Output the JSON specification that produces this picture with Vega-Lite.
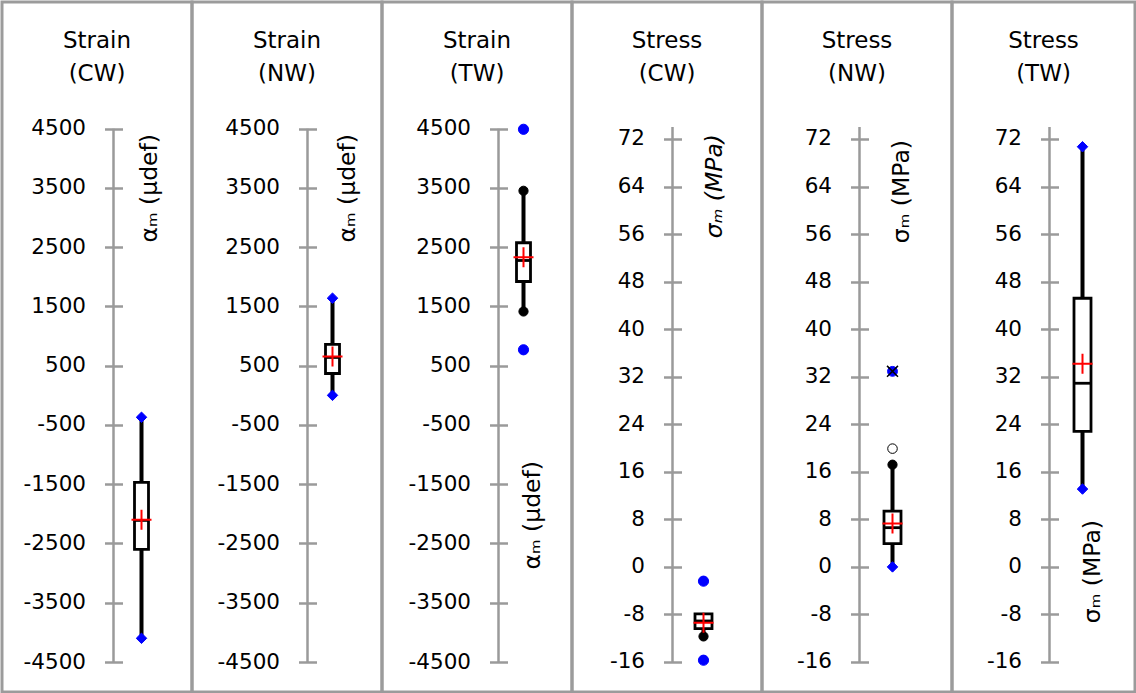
{
  "$schema": "https://vega.github.io/schema/vega-lite/v6.json",
  "padding": 0,
  "background": "white",
  "spacing": 0,
  "bounds": "flush",
  "datasets": {
    "stats": [
      {"panel": "Strain CW", "lo": -4100, "q1": -2600, "median": -2110, "q3": -1470, "hi": -370, "mean": -2100},
      {"panel": "Strain NW", "lo": 0, "q1": 369, "median": 640, "q3": 860, "hi": 1640, "mean": 655},
      {"panel": "Strain TW", "lo": 1415, "q1": 1921, "median": 2276, "q3": 2575, "hi": 3452, "mean": 2331},
      {"panel": "Stress CW", "lo": -11.7, "q1": -10.4, "median": -9.1, "q3": -7.9, "hi": -7.9, "mean": -9.4},
      {"panel": "Stress NW", "lo": 0, "q1": 3.9, "median": 6.6, "q3": 9.4, "hi": 17.2, "mean": 7.3},
      {"panel": "Stress TW", "lo": 13.1, "q1": 22.8, "median": 30.9, "q3": 45.2, "hi": 70.7, "mean": 34.2}
    ],
    "points": [
      {"panel": "Strain CW", "value": -370, "kind": "diamond"},
      {"panel": "Strain CW", "value": -4100, "kind": "diamond"},
      {"panel": "Strain NW", "value": 1640, "kind": "diamond"},
      {"panel": "Strain NW", "value": 0, "kind": "diamond"},
      {"panel": "Strain TW", "value": 4490, "kind": "circle"},
      {"panel": "Strain TW", "value": 769, "kind": "circle"},
      {"panel": "Strain TW", "value": 3452, "kind": "cap"},
      {"panel": "Strain TW", "value": 1415, "kind": "cap"},
      {"panel": "Stress CW", "value": -2.4, "kind": "circle"},
      {"panel": "Stress CW", "value": -15.7, "kind": "circle"},
      {"panel": "Stress CW", "value": -11.7, "kind": "cap"},
      {"panel": "Stress NW", "value": 32.9, "kind": "star"},
      {"panel": "Stress NW", "value": 19.9, "kind": "open"},
      {"panel": "Stress NW", "value": 17.2, "kind": "cap"},
      {"panel": "Stress NW", "value": 0, "kind": "diamond"},
      {"panel": "Stress TW", "value": 70.7, "kind": "diamond"},
      {"panel": "Stress TW", "value": 13.1, "kind": "diamond"}
    ]
  },
  "resolve": {"scale": {"x": "independent", "y": "independent"}},
  "hconcat": [
    {
      "width": 190, "height": 690,
      "title": {"text": ["Strain", "(CW)"]},
      "layer": [
        {"data": {"name": "stats"}, "transform": [{"filter": "datum.panel === 'Strain CW'"}],
         "mark": {"type": "rule", "color": "#9a9a9a", "strokeWidth": 2.5},
         "encoding": {
           "x": {"datum": "axis", "type": "nominal", "scale": {"type": "point", "domain": ["axis", "box"], "range": [111.5, 139.5], "padding": 0}, "axis": null},
           "y": {"datum": -4500, "type": "quantitative", "scale": {"domain": [-5006, 6638], "nice": false, "zero": false},
                 "axis": {"values": [-4500, -3500, -2500, -1500, -500, 500, 1500, 2500, 3500, 4500], "labelExpr": "'' + datum.value", "offset": -120.5, "title": "αₘ (µdef)", "titleX": 27, "titleY": 131.5}},
           "y2": {"datum": 4500}
         }},
        {"data": {"name": "stats"}, "transform": [{"filter": "datum.panel === 'Strain CW'"}],
         "mark": {"type": "rule", "color": "black", "strokeWidth": 4},
         "encoding": {"x": {"datum": "box", "type": "nominal"}, "y": {"field": "lo", "type": "quantitative"}, "y2": {"field": "hi"}}},
        {"data": {"name": "stats"}, "transform": [{"filter": "datum.panel === 'Strain CW'"}],
         "mark": {"type": "bar", "width": 14, "fill": "white", "stroke": "black", "strokeWidth": 2.8, "opacity": 1},
         "encoding": {"x": {"datum": "box", "type": "nominal"}, "y": {"field": "q1", "type": "quantitative"}, "y2": {"field": "q3"}}},
        {"data": {"name": "stats"}, "transform": [{"filter": "datum.panel === 'Strain CW'"}],
         "mark": {"type": "tick", "size": 14, "thickness": 2.8, "color": "black", "opacity": 1},
         "encoding": {"x": {"datum": "box", "type": "nominal"}, "y": {"field": "median", "type": "quantitative"}}},
        {"data": {"name": "points"}, "transform": [{"filter": "datum.panel === 'Strain CW'"}],
         "mark": {"type": "point", "filled": true, "strokeWidth": 1, "opacity": 1},
         "encoding": {"x": {"datum": "box", "type": "nominal"}, "y": {"field": "value", "type": "quantitative"},
           "shape": {"field": "kind", "type": "nominal", "legend": null, "scale": {"domain": ["diamond", "circle", "star", "open", "cap"], "range": ["diamond", "circle", "circle", "circle", "circle"]}},
           "size": {"field": "kind", "type": "nominal", "legend": null, "scale": {"domain": ["diamond", "circle", "star", "open", "cap"], "range": [110, 85, 100, 45, 16]}},
           "fill": {"field": "kind", "type": "nominal", "legend": null, "scale": {"domain": ["diamond", "circle", "star", "open", "cap"], "range": ["#0000ff", "#0000ff", "#0000ff", "#ffffff", "#000000"]}},
           "stroke": {"field": "kind", "type": "nominal", "legend": null, "scale": {"domain": ["diamond", "circle", "star", "open", "cap"], "range": ["#0000ff", "#0000ff", "#0000ff", "#000000", "#000000"]}}}},
        {"data": {"name": "stats"}, "transform": [{"filter": "datum.panel === 'Strain CW'"}],
         "mark": {"type": "point", "shape": "M-1,0L1,0M0,-1L0,1", "size": 400, "filled": false, "stroke": "#ff0000", "strokeWidth": 2, "opacity": 1},
         "encoding": {"x": {"datum": "box", "type": "nominal"}, "y": {"field": "mean", "type": "quantitative"}}}
      ]
    },
    {
      "width": 190, "height": 690,
      "title": {"text": ["Strain", "(NW)"]},
      "layer": [
        {"data": {"name": "stats"}, "transform": [{"filter": "datum.panel === 'Strain NW'"}],
         "mark": {"type": "rule", "color": "#9a9a9a", "strokeWidth": 2.5},
         "encoding": {
           "x": {"datum": "axis", "type": "nominal", "scale": {"type": "point", "domain": ["axis", "box"], "range": [115.5, 140.5], "padding": 0}, "axis": null},
           "y": {"datum": -4500, "type": "quantitative", "scale": {"domain": [-5006, 6638], "nice": false, "zero": false},
                 "axis": {"values": [-4500, -3500, -2500, -1500, -500, 500, 1500, 2500, 3500, 4500], "labelExpr": "'' + datum.value", "offset": -124.5, "title": "αₘ (µdef)", "titleX": 31, "titleY": 131.5}},
           "y2": {"datum": 4500}
         }},
        {"data": {"name": "stats"}, "transform": [{"filter": "datum.panel === 'Strain NW'"}],
         "mark": {"type": "rule", "color": "black", "strokeWidth": 4},
         "encoding": {"x": {"datum": "box", "type": "nominal"}, "y": {"field": "lo", "type": "quantitative"}, "y2": {"field": "hi"}}},
        {"data": {"name": "stats"}, "transform": [{"filter": "datum.panel === 'Strain NW'"}],
         "mark": {"type": "bar", "width": 14, "fill": "white", "stroke": "black", "strokeWidth": 2.8, "opacity": 1},
         "encoding": {"x": {"datum": "box", "type": "nominal"}, "y": {"field": "q1", "type": "quantitative"}, "y2": {"field": "q3"}}},
        {"data": {"name": "stats"}, "transform": [{"filter": "datum.panel === 'Strain NW'"}],
         "mark": {"type": "tick", "size": 14, "thickness": 2.8, "color": "black", "opacity": 1},
         "encoding": {"x": {"datum": "box", "type": "nominal"}, "y": {"field": "median", "type": "quantitative"}}},
        {"data": {"name": "points"}, "transform": [{"filter": "datum.panel === 'Strain NW'"}],
         "mark": {"type": "point", "filled": true, "strokeWidth": 1, "opacity": 1},
         "encoding": {"x": {"datum": "box", "type": "nominal"}, "y": {"field": "value", "type": "quantitative"},
           "shape": {"field": "kind", "type": "nominal", "legend": null, "scale": {"domain": ["diamond", "circle", "star", "open", "cap"], "range": ["diamond", "circle", "circle", "circle", "circle"]}},
           "size": {"field": "kind", "type": "nominal", "legend": null, "scale": {"domain": ["diamond", "circle", "star", "open", "cap"], "range": [110, 85, 100, 45, 16]}},
           "fill": {"field": "kind", "type": "nominal", "legend": null, "scale": {"domain": ["diamond", "circle", "star", "open", "cap"], "range": ["#0000ff", "#0000ff", "#0000ff", "#ffffff", "#000000"]}},
           "stroke": {"field": "kind", "type": "nominal", "legend": null, "scale": {"domain": ["diamond", "circle", "star", "open", "cap"], "range": ["#0000ff", "#0000ff", "#0000ff", "#000000", "#000000"]}}}},
        {"data": {"name": "stats"}, "transform": [{"filter": "datum.panel === 'Strain NW'"}],
         "mark": {"type": "point", "shape": "M-1,0L1,0M0,-1L0,1", "size": 400, "filled": false, "stroke": "#ff0000", "strokeWidth": 2, "opacity": 1},
         "encoding": {"x": {"datum": "box", "type": "nominal"}, "y": {"field": "mean", "type": "quantitative"}}}
      ]
    },
    {
      "width": 190, "height": 690,
      "title": {"text": ["Strain", "(TW)"]},
      "layer": [
        {"data": {"name": "stats"}, "transform": [{"filter": "datum.panel === 'Strain TW'"}],
         "mark": {"type": "rule", "color": "#9a9a9a", "strokeWidth": 2.5},
         "encoding": {
           "x": {"datum": "axis", "type": "nominal", "scale": {"type": "point", "domain": ["axis", "box"], "range": [116.5, 141.5], "padding": 0}, "axis": null},
           "y": {"datum": -4500, "type": "quantitative", "scale": {"domain": [-5006, 6638], "nice": false, "zero": false},
                 "axis": {"values": [-4500, -3500, -2500, -1500, -500, 500, 1500, 2500, 3500, 4500], "labelExpr": "'' + datum.value", "offset": -125.5, "title": "αₘ (µdef)", "titleX": 25, "titleY": 458.5}},
           "y2": {"datum": 4500}
         }},
        {"data": {"name": "stats"}, "transform": [{"filter": "datum.panel === 'Strain TW'"}],
         "mark": {"type": "rule", "color": "black", "strokeWidth": 4},
         "encoding": {"x": {"datum": "box", "type": "nominal"}, "y": {"field": "lo", "type": "quantitative"}, "y2": {"field": "hi"}}},
        {"data": {"name": "stats"}, "transform": [{"filter": "datum.panel === 'Strain TW'"}],
         "mark": {"type": "bar", "width": 14, "fill": "white", "stroke": "black", "strokeWidth": 2.8, "opacity": 1},
         "encoding": {"x": {"datum": "box", "type": "nominal"}, "y": {"field": "q1", "type": "quantitative"}, "y2": {"field": "q3"}}},
        {"data": {"name": "stats"}, "transform": [{"filter": "datum.panel === 'Strain TW'"}],
         "mark": {"type": "tick", "size": 14, "thickness": 2.8, "color": "black", "opacity": 1},
         "encoding": {"x": {"datum": "box", "type": "nominal"}, "y": {"field": "median", "type": "quantitative"}}},
        {"data": {"name": "points"}, "transform": [{"filter": "datum.panel === 'Strain TW'"}],
         "mark": {"type": "point", "filled": true, "strokeWidth": 1, "opacity": 1},
         "encoding": {"x": {"datum": "box", "type": "nominal"}, "y": {"field": "value", "type": "quantitative"},
           "shape": {"field": "kind", "type": "nominal", "legend": null, "scale": {"domain": ["diamond", "circle", "star", "open", "cap"], "range": ["diamond", "circle", "circle", "circle", "circle"]}},
           "size": {"field": "kind", "type": "nominal", "legend": null, "scale": {"domain": ["diamond", "circle", "star", "open", "cap"], "range": [110, 85, 100, 45, 16]}},
           "fill": {"field": "kind", "type": "nominal", "legend": null, "scale": {"domain": ["diamond", "circle", "star", "open", "cap"], "range": ["#0000ff", "#0000ff", "#0000ff", "#ffffff", "#000000"]}},
           "stroke": {"field": "kind", "type": "nominal", "legend": null, "scale": {"domain": ["diamond", "circle", "star", "open", "cap"], "range": ["#0000ff", "#0000ff", "#0000ff", "#000000", "#000000"]}}}},
        {"data": {"name": "stats"}, "transform": [{"filter": "datum.panel === 'Strain TW'"}],
         "mark": {"type": "point", "shape": "M-1,0L1,0M0,-1L0,1", "size": 400, "filled": false, "stroke": "#ff0000", "strokeWidth": 2, "opacity": 1},
         "encoding": {"x": {"datum": "box", "type": "nominal"}, "y": {"field": "mean", "type": "quantitative"}}}
      ]
    },
    {
      "width": 190, "height": 690,
      "title": {"text": ["Stress", "(CW)"]},
      "layer": [
        {"data": {"name": "stats"}, "transform": [{"filter": "datum.panel === 'Stress CW'"}],
         "mark": {"type": "rule", "color": "#9a9a9a", "strokeWidth": 2.5},
         "encoding": {
           "x": {"datum": "axis", "type": "nominal", "scale": {"type": "point", "domain": ["axis", "box"], "range": [100.5, 131.5], "padding": 0}, "axis": null},
           "y": {"datum": -16, "type": "quantitative", "scale": {"domain": [-21.05, 95.05], "nice": false, "zero": false},
                 "axis": {"values": [-16, -8, 0, 8, 16, 24, 32, 40, 48, 56, 64, 72], "labelExpr": "'' + datum.value", "offset": -109.5, "title": "σₘ (MPa)", "titleFontStyle": "italic", "titleX": 33, "titleY": 131.5}},
           "y2": {"datum": 74}
         }},
        {"data": {"name": "stats"}, "transform": [{"filter": "datum.panel === 'Stress CW'"}],
         "mark": {"type": "rule", "color": "black", "strokeWidth": 4},
         "encoding": {"x": {"datum": "box", "type": "nominal"}, "y": {"field": "lo", "type": "quantitative"}, "y2": {"field": "hi"}}},
        {"data": {"name": "stats"}, "transform": [{"filter": "datum.panel === 'Stress CW'"}],
         "mark": {"type": "bar", "width": 17, "fill": "white", "stroke": "black", "strokeWidth": 2.8, "opacity": 1},
         "encoding": {"x": {"datum": "box", "type": "nominal"}, "y": {"field": "q1", "type": "quantitative"}, "y2": {"field": "q3"}}},
        {"data": {"name": "stats"}, "transform": [{"filter": "datum.panel === 'Stress CW'"}],
         "mark": {"type": "tick", "size": 17, "thickness": 2.8, "color": "black", "opacity": 1},
         "encoding": {"x": {"datum": "box", "type": "nominal"}, "y": {"field": "median", "type": "quantitative"}}},
        {"data": {"name": "points"}, "transform": [{"filter": "datum.panel === 'Stress CW'"}],
         "mark": {"type": "point", "filled": true, "strokeWidth": 1, "opacity": 1},
         "encoding": {"x": {"datum": "box", "type": "nominal"}, "y": {"field": "value", "type": "quantitative"},
           "shape": {"field": "kind", "type": "nominal", "legend": null, "scale": {"domain": ["diamond", "circle", "star", "open", "cap"], "range": ["diamond", "circle", "circle", "circle", "circle"]}},
           "size": {"field": "kind", "type": "nominal", "legend": null, "scale": {"domain": ["diamond", "circle", "star", "open", "cap"], "range": [110, 85, 100, 45, 16]}},
           "fill": {"field": "kind", "type": "nominal", "legend": null, "scale": {"domain": ["diamond", "circle", "star", "open", "cap"], "range": ["#0000ff", "#0000ff", "#0000ff", "#ffffff", "#000000"]}},
           "stroke": {"field": "kind", "type": "nominal", "legend": null, "scale": {"domain": ["diamond", "circle", "star", "open", "cap"], "range": ["#0000ff", "#0000ff", "#0000ff", "#000000", "#000000"]}}}},
        {"data": {"name": "stats"}, "transform": [{"filter": "datum.panel === 'Stress CW'"}],
         "mark": {"type": "point", "shape": "M-1,0L1,0M0,-1L0,1", "size": 400, "filled": false, "stroke": "#ff0000", "strokeWidth": 2, "opacity": 1},
         "encoding": {"x": {"datum": "box", "type": "nominal"}, "y": {"field": "mean", "type": "quantitative"}}}
      ]
    },
    {
      "width": 190, "height": 690,
      "title": {"text": ["Stress", "(NW)"]},
      "layer": [
        {"data": {"name": "stats"}, "transform": [{"filter": "datum.panel === 'Stress NW'"}],
         "mark": {"type": "rule", "color": "#9a9a9a", "strokeWidth": 2.5},
         "encoding": {
           "x": {"datum": "axis", "type": "nominal", "scale": {"type": "point", "domain": ["axis", "box"], "range": [97.5, 130.5], "padding": 0}, "axis": null},
           "y": {"datum": -16, "type": "quantitative", "scale": {"domain": [-21.05, 95.05], "nice": false, "zero": false},
                 "axis": {"values": [-16, -8, 0, 8, 16, 24, 32, 40, 48, 56, 64, 72], "labelExpr": "'' + datum.value", "offset": -106.5, "title": "σₘ (MPa)", "titleX": 33, "titleY": 137.5}},
           "y2": {"datum": 74}
         }},
        {"data": {"name": "stats"}, "transform": [{"filter": "datum.panel === 'Stress NW'"}],
         "mark": {"type": "rule", "color": "black", "strokeWidth": 4},
         "encoding": {"x": {"datum": "box", "type": "nominal"}, "y": {"field": "lo", "type": "quantitative"}, "y2": {"field": "hi"}}},
        {"data": {"name": "stats"}, "transform": [{"filter": "datum.panel === 'Stress NW'"}],
         "mark": {"type": "bar", "width": 17, "fill": "white", "stroke": "black", "strokeWidth": 2.8, "opacity": 1},
         "encoding": {"x": {"datum": "box", "type": "nominal"}, "y": {"field": "q1", "type": "quantitative"}, "y2": {"field": "q3"}}},
        {"data": {"name": "stats"}, "transform": [{"filter": "datum.panel === 'Stress NW'"}],
         "mark": {"type": "tick", "size": 17, "thickness": 2.8, "color": "black", "opacity": 1},
         "encoding": {"x": {"datum": "box", "type": "nominal"}, "y": {"field": "median", "type": "quantitative"}}},
        {"data": {"name": "points"}, "transform": [{"filter": "datum.panel === 'Stress NW'"}],
         "mark": {"type": "point", "filled": true, "strokeWidth": 1, "opacity": 1},
         "encoding": {"x": {"datum": "box", "type": "nominal"}, "y": {"field": "value", "type": "quantitative"},
           "shape": {"field": "kind", "type": "nominal", "legend": null, "scale": {"domain": ["diamond", "circle", "star", "open", "cap"], "range": ["diamond", "circle", "circle", "circle", "circle"]}},
           "size": {"field": "kind", "type": "nominal", "legend": null, "scale": {"domain": ["diamond", "circle", "star", "open", "cap"], "range": [110, 85, 100, 45, 16]}},
           "fill": {"field": "kind", "type": "nominal", "legend": null, "scale": {"domain": ["diamond", "circle", "star", "open", "cap"], "range": ["#0000ff", "#0000ff", "#0000ff", "#ffffff", "#000000"]}},
           "stroke": {"field": "kind", "type": "nominal", "legend": null, "scale": {"domain": ["diamond", "circle", "star", "open", "cap"], "range": ["#0000ff", "#0000ff", "#0000ff", "#000000", "#000000"]}}}},
        {"data": {"name": "points"}, "transform": [{"filter": "datum.panel === 'Stress NW' && datum.kind === 'star'"}],
         "mark": {"type": "point", "shape": "M-1,-1L1,1M1,-1L-1,1", "size": 120, "filled": false, "stroke": "black", "strokeWidth": 1.5, "opacity": 1},
         "encoding": {"x": {"datum": "box", "type": "nominal"}, "y": {"field": "value", "type": "quantitative"}}},
        {"data": {"name": "stats"}, "transform": [{"filter": "datum.panel === 'Stress NW'"}],
         "mark": {"type": "point", "shape": "M-1,0L1,0M0,-1L0,1", "size": 400, "filled": false, "stroke": "#ff0000", "strokeWidth": 2, "opacity": 1},
         "encoding": {"x": {"datum": "box", "type": "nominal"}, "y": {"field": "mean", "type": "quantitative"}}}
      ]
    },
    {
      "width": 183, "height": 690,
      "title": {"text": ["Stress", "(TW)"]},
      "layer": [
        {"data": {"name": "stats"}, "transform": [{"filter": "datum.panel === 'Stress TW'"}],
         "mark": {"type": "rule", "color": "#9a9a9a", "strokeWidth": 2.5},
         "encoding": {
           "x": {"datum": "axis", "type": "nominal", "scale": {"type": "point", "domain": ["axis", "box"], "range": [97.5, 130.5], "padding": 0}, "axis": null},
           "y": {"datum": -16, "type": "quantitative", "scale": {"domain": [-21.05, 95.05], "nice": false, "zero": false},
                 "axis": {"values": [-16, -8, 0, 8, 16, 24, 32, 40, 48, 56, 64, 72], "labelExpr": "'' + datum.value", "offset": -106.5, "title": "σₘ (MPa)", "titleX": 34, "titleY": 517.5}},
           "y2": {"datum": 74}
         }},
        {"data": {"name": "stats"}, "transform": [{"filter": "datum.panel === 'Stress TW'"}],
         "mark": {"type": "rule", "color": "black", "strokeWidth": 4},
         "encoding": {"x": {"datum": "box", "type": "nominal"}, "y": {"field": "lo", "type": "quantitative"}, "y2": {"field": "hi"}}},
        {"data": {"name": "stats"}, "transform": [{"filter": "datum.panel === 'Stress TW'"}],
         "mark": {"type": "bar", "width": 17, "fill": "white", "stroke": "black", "strokeWidth": 2.8, "opacity": 1},
         "encoding": {"x": {"datum": "box", "type": "nominal"}, "y": {"field": "q1", "type": "quantitative"}, "y2": {"field": "q3"}}},
        {"data": {"name": "stats"}, "transform": [{"filter": "datum.panel === 'Stress TW'"}],
         "mark": {"type": "tick", "size": 17, "thickness": 2.8, "color": "black", "opacity": 1},
         "encoding": {"x": {"datum": "box", "type": "nominal"}, "y": {"field": "median", "type": "quantitative"}}},
        {"data": {"name": "points"}, "transform": [{"filter": "datum.panel === 'Stress TW'"}],
         "mark": {"type": "point", "filled": true, "strokeWidth": 1, "opacity": 1},
         "encoding": {"x": {"datum": "box", "type": "nominal"}, "y": {"field": "value", "type": "quantitative"},
           "shape": {"field": "kind", "type": "nominal", "legend": null, "scale": {"domain": ["diamond", "circle", "star", "open", "cap"], "range": ["diamond", "circle", "circle", "circle", "circle"]}},
           "size": {"field": "kind", "type": "nominal", "legend": null, "scale": {"domain": ["diamond", "circle", "star", "open", "cap"], "range": [110, 85, 100, 45, 16]}},
           "fill": {"field": "kind", "type": "nominal", "legend": null, "scale": {"domain": ["diamond", "circle", "star", "open", "cap"], "range": ["#0000ff", "#0000ff", "#0000ff", "#ffffff", "#000000"]}},
           "stroke": {"field": "kind", "type": "nominal", "legend": null, "scale": {"domain": ["diamond", "circle", "star", "open", "cap"], "range": ["#0000ff", "#0000ff", "#0000ff", "#000000", "#000000"]}}}},
        {"data": {"name": "stats"}, "transform": [{"filter": "datum.panel === 'Stress TW'"}],
         "mark": {"type": "point", "shape": "M-1,0L1,0M0,-1L0,1", "size": 400, "filled": false, "stroke": "#ff0000", "strokeWidth": 2, "opacity": 1},
         "encoding": {"x": {"datum": "box", "type": "nominal"}, "y": {"field": "mean", "type": "quantitative"}}}
      ]
    }
  ],
  "config": {
    "view": {"stroke": "#9b9b9b", "strokeWidth": 3},
    "axis": {
      "domain": false, "grid": false,
      "tickSize": 18, "tickColor": "#9a9a9a", "tickWidth": 2.5,
      "labelFont": "DejaVu Sans", "labelFontSize": 21.5, "labelColor": "black", "labelPadding": 19,
      "labelOverlap": false, "labelFlush": false,
      "titleFont": "DejaVu Sans", "titleFontSize": 23.5, "titleFontWeight": "normal", "titleColor": "black",
      "titleAngle": 270, "titleAlign": "right", "titleBaseline": "middle"
    },
    "title": {"font": "DejaVu Sans", "fontSize": 23, "fontWeight": "normal", "color": "black", "anchor": "middle", "frame": "group", "offset": -84, "lineHeight": 33, "baseline": "bottom"}
  }
}
